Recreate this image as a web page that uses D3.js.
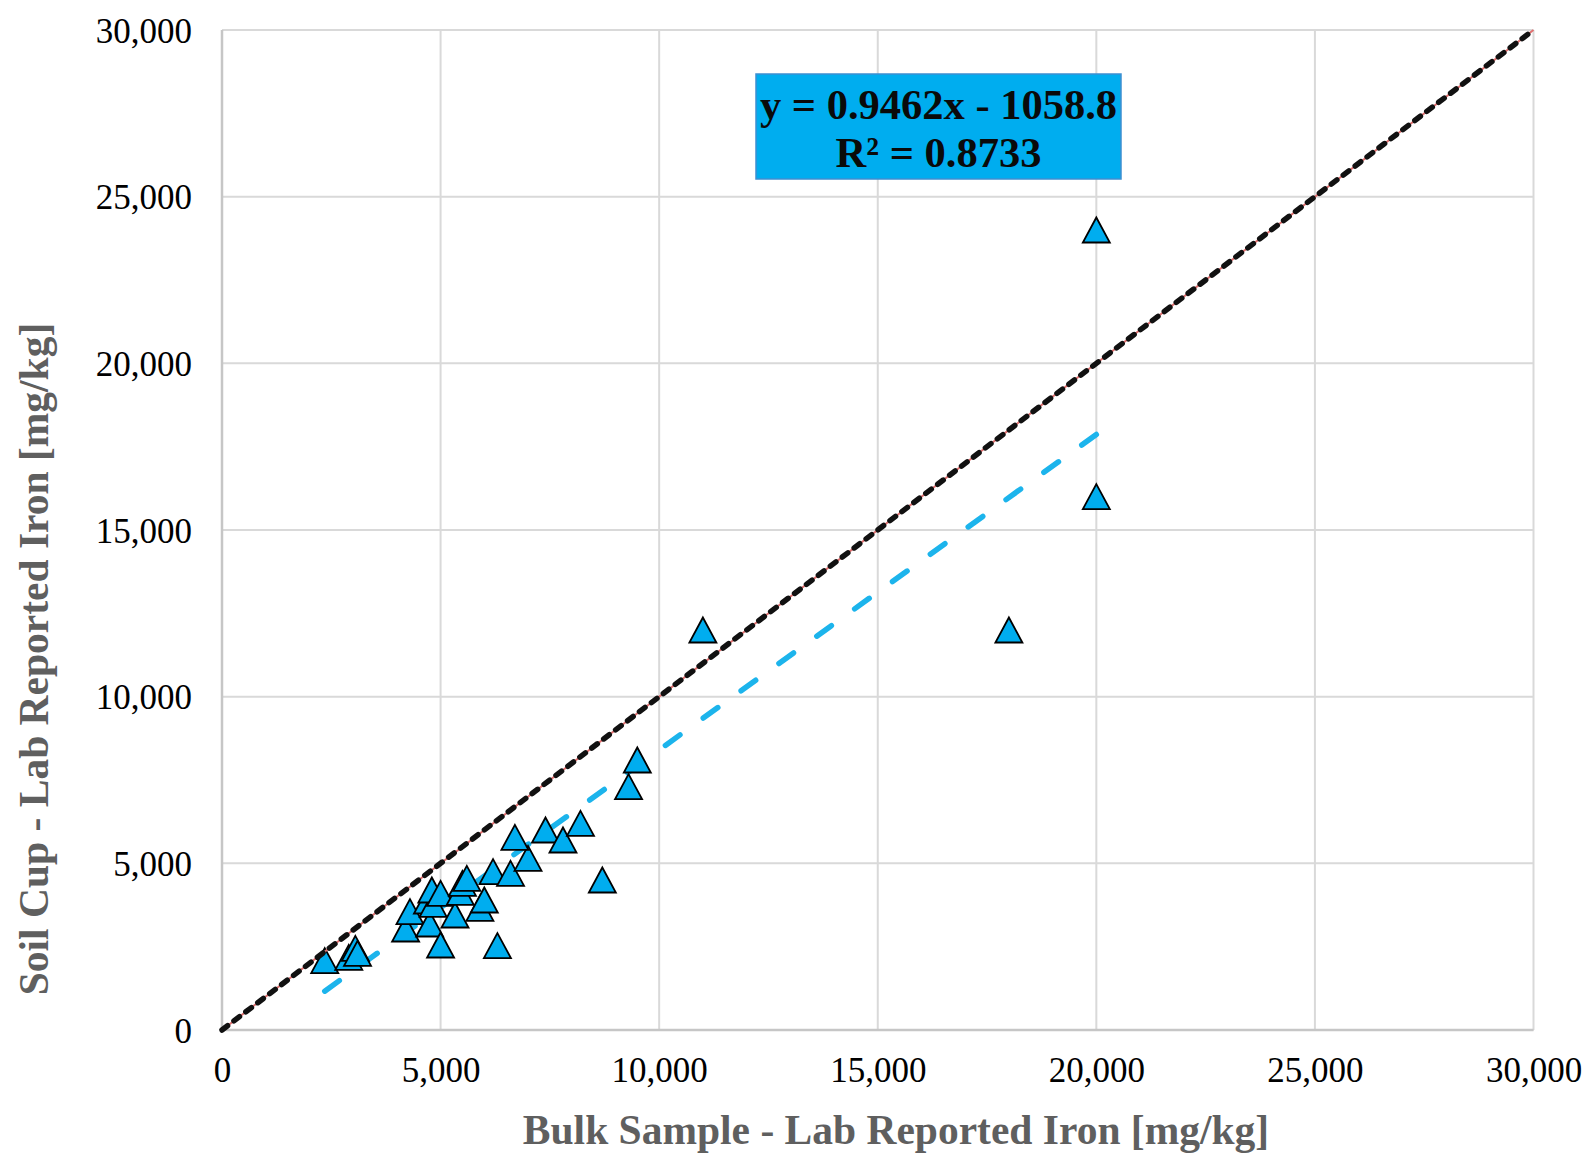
<!DOCTYPE html>
<html>
<head>
<meta charset="utf-8">
<script src="https://cdn.jsdelivr.net/npm/d3@7"></script>
<style>
  html, body { margin: 0; padding: 0; background: #fff; }
  svg { display: block; }
</style>
</head>
<body>
<svg id="chart" width="1585" height="1155"></svg>
<script>
// ---- Data ----
const bulkIron = [2350, 2900, 3050, 3100, 4200, 4300, 4750, 4700, 4830, 4800, 5000, 5000, 5330, 5450, 5500, 5600, 5900, 6000, 6200, 6300, 6600, 7000, 6700, 7400, 7800, 8200, 8700, 9300, 9500, 11000, 18000, 20000, 20000];
const soilCupIron = [2080, 2180, 2450, 2300, 3030, 3550, 3180, 3870, 3770, 4200, 4100, 2550, 3450, 4130, 4400, 4550, 3650, 3900, 4750, 2530, 4700, 5150, 5780, 6000, 5700, 6200, 4500, 7300, 8100, 12000, 12000, 16000, 24000];
const tickValues = [0, 5000, 10000, 15000, 20000, 25000, 30000];
const oneToOne = [0, 30000];
const trendSlope = 0.9462;
const trendIntercept = -1058.8;
const equationLines = ["y = 0.9462x - 1058.8", "R\u00B2 = 0.8733"];
const xTitle = "Bulk Sample - Lab Reported Iron [mg/kg]";
const yTitle = "Soil Cup - Lab Reported Iron [mg/kg]";

(function () {
// ---- Layout ----
const svg = d3.select("#chart");
svg.append("rect").attr("width", 1585).attr("height", 1155).attr("fill", "#fff");
const pL = 222, pR = 1533.5, pT = 30, pB = 1030;
const x = d3.scaleLinear().domain([0, 30000]).range([pL, pR]);
const y = d3.scaleLinear().domain([0, 30000]).range([pB, pT]);
const serif = "'Liberation Serif', 'Times New Roman', serif";

// gridlines
const grid = svg.append("g");
grid.selectAll("line.v").data(tickValues).join("line")
  .attr("class", "v")
  .attr("x1", d => x(d)).attr("x2", d => x(d))
  .attr("y1", pT).attr("y2", pB)
  .attr("stroke", "#d9d9d9").attr("stroke-width", 2);
grid.selectAll("line.h").data(tickValues).join("line")
  .attr("class", "h")
  .attr("x1", pL).attr("x2", pR)
  .attr("y1", d => y(d)).attr("y2", d => y(d))
  .attr("stroke", "#d9d9d9").attr("stroke-width", 2);
svg.append("line").attr("x1", pL).attr("x2", pL).attr("y1", pT).attr("y2", pB)
  .attr("stroke", "#c6c6c6").attr("stroke-width", 2.5);
svg.append("line").attr("x1", pL).attr("x2", pR).attr("y1", pB).attr("y2", pB)
  .attr("stroke", "#c6c6c6").attr("stroke-width", 2.5);

// axes
const fmt = d3.format(",");
const xAxis = svg.append("g").attr("transform", `translate(0,${pB})`)
  .call(d3.axisBottom(x).tickValues(tickValues).tickFormat(fmt).tickSize(0));
xAxis.select(".domain").remove();
xAxis.selectAll("text").attr("y", 40).attr("dy", "0.35em")
  .attr("font-family", serif).attr("font-size", 35).attr("fill", "#000");

const yAxis = svg.append("g").attr("transform", `translate(${pL},0)`)
  .call(d3.axisLeft(y).tickValues(tickValues).tickFormat(fmt).tickSize(0));
yAxis.select(".domain").remove();
yAxis.selectAll("text").attr("x", -30).attr("dy", "0.35em")
  .attr("font-family", serif).attr("font-size", 35).attr("fill", "#000");

// trendline (under markers)
const xExt = d3.extent(bulkIron);
const trendLine = d3.line().x(d => x(d)).y(d => y(trendSlope * d + trendIntercept));
const trend = svg.append("path").datum(xExt).attr("d", trendLine)
  .attr("fill", "none").attr("stroke", "#1cb4ec").attr("stroke-width", 5.5)
  .attr("stroke-linecap", "round");
const L = trend.node().getTotalLength();
const nDash = 21, dashLen = 18;
const gapLen = (L - nDash * dashLen) / (nDash - 1);
trend.attr("stroke-dasharray", `${dashLen},${gapLen}`);

// markers
const tw = 27, th = 25;
svg.append("g").selectAll("path").data(bulkIron.map((b, i) => [b, soilCupIron[i]])).join("path")
  .attr("d", d => {
    const cx = x(d[0]), cy = y(d[1]);
    return `M${cx},${cy - th / 2}L${cx + tw / 2},${cy + th / 2}L${cx - tw / 2},${cy + th / 2}Z`;
  })
  .attr("fill", "#00adef").attr("stroke", "#000").attr("stroke-width", 1.8)
  .attr("stroke-linejoin", "miter");

// 1:1 line
const idLine = d3.line().x(d => x(d)).y(d => y(d));
svg.append("path").datum(oneToOne).attr("d", idLine)
  .attr("fill", "none").attr("stroke", "#e07070").attr("stroke-width", 2);
svg.append("path").datum(oneToOne).attr("d", idLine)
  .attr("fill", "none").attr("stroke", "#111").attr("stroke-width", 5.5)
  .attr("stroke-linecap", "round").attr("stroke-dasharray", "7,8");

// equation box
svg.append("rect").attr("x", 756).attr("y", 74).attr("width", 365).attr("height", 105)
  .attr("fill", "#00adef").attr("stroke", "#3d8fd1").attr("stroke-width", 1.5);
svg.append("g").selectAll("text").data(equationLines).join("text")
  .attr("x", 938.5).attr("y", (d, i) => 104 + i * 48).attr("dy", "0.35em")
  .attr("text-anchor", "middle").attr("font-family", serif).attr("font-weight", "bold")
  .attr("font-size", 42.5).attr("fill", "#0a0a0a").text(d => d);

// titles
svg.append("text").attr("x", 896).attr("y", 1129).attr("dy", "0.35em")
  .attr("text-anchor", "middle").attr("font-family", serif).attr("font-weight", "bold")
  .attr("font-size", 41.5).attr("fill", "#5f5f5f").text(xTitle);
svg.append("text").attr("transform", "translate(33,659) rotate(-90)").attr("dy", "0.35em")
  .attr("text-anchor", "middle").attr("font-family", serif).attr("font-weight", "bold")
  .attr("font-size", 41.5).attr("fill", "#5f5f5f").text(yTitle);
})();
</script>
</body>
</html>
